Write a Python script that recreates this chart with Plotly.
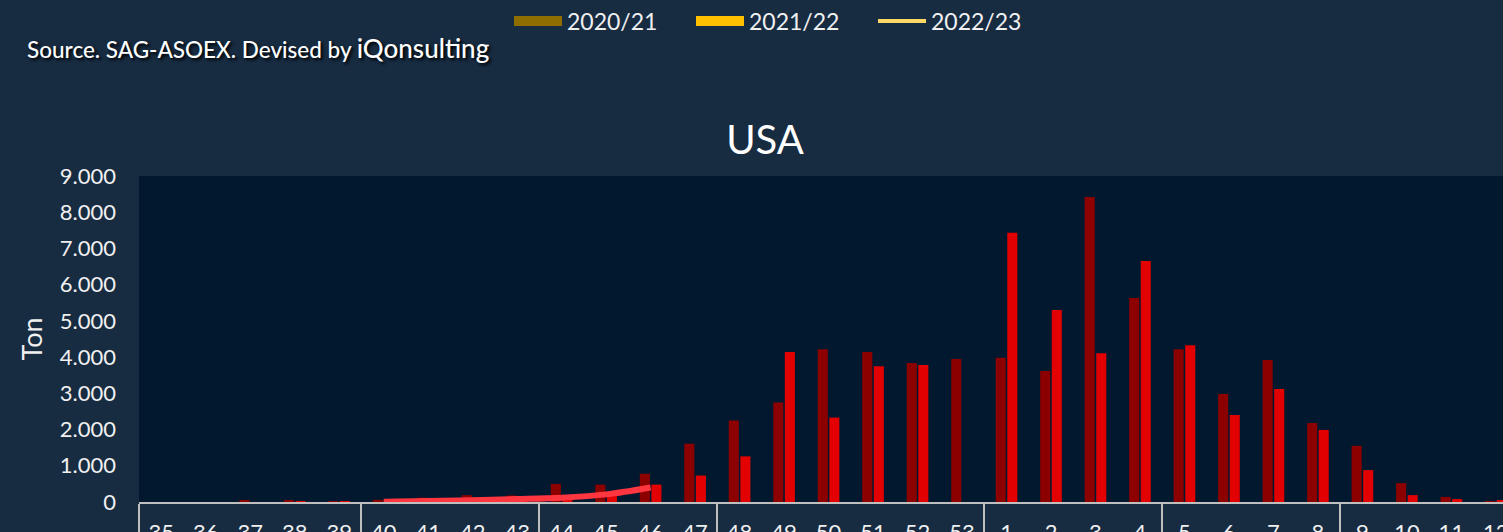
import plotly.graph_objects as go

# ---------------- data ----------------
months = (["Sep"] * 5 + ["Oct"] * 4 + ["Nov"] * 4 + ["Dec"] * 6 +
          ["Jan"] * 4 + ["Feb"] * 4 + ["Mar"] * 4)
weeks = ["35", "36", "37", "38", "39", "40", "41", "42", "43", "44", "45", "46",
         "47", "48", "49", "50", "51", "52", "53", "1", "2", "3", "4", "5", "6",
         "7", "8", "9", "10", "11", "12"]

season_2020_21 = [0, 0, 30, 30, 20, 60, 120, 190, 180, 500, 480, 780,
                  1610, 2250, 2750, 4220, 4140, 3840, 3950, 3980, 3620, 8420, 5630, 4220, 2980,
                  3920, 2180, 1550, 520, 140, 20]
season_2021_22 = [0, 0, 0, 10, 20, 10, 20, 40, 60, 100, 240, 480,
                  730, 1260, 4140, 2330, 3750, 3780, 0, 7430, 5300, 4110, 6650, 4330, 2400,
                  3120, 1990, 880, 190, 80, 50]
line_months = ["Oct", "Oct", "Oct", "Oct", "Nov", "Nov", "Nov"]
line_weeks = ["40", "41", "42", "43", "44", "45", "46"]
season_2022_23 = [10, 30, 50, 80, 120, 210, 400]

legend_names = ["2020/21", "2021/22", "2022/23"]
legend_colors = ["#8E6E00", "#FFC000", "#FFD966"]

y_ticks = [0, 1000, 2000, 3000, 4000, 5000, 6000, 7000, 8000, 9000]

# ---------------- figure ----------------
W, H = 1503, 532
FONT = "Lato"
TXT = "#F0F0F0"

fig = go.Figure()
fig.add_trace(go.Bar(x=[months, weeks], y=season_2020_21, name="2020/21",
                     marker=dict(color="#8C0000", line=dict(width=0)), showlegend=False))
fig.add_trace(go.Bar(x=[months, weeks], y=season_2021_22, name="2021/22",
                     marker=dict(color="#E20000", line=dict(width=0)), showlegend=False))
fig.add_trace(go.Scatter(x=[line_months, line_weeks], y=season_2022_23, name="2022/23",
                         mode="lines", line=dict(color="#FF3540", width=6, shape="spline"),
                         showlegend=False))

# legend entries (colours as shown in the reference legend)
for i, (nm, col) in enumerate(zip(legend_names, legend_colors)):
    fig.add_trace(go.Scatter(x=[None], y=[None], name=nm, mode="lines",
                             line=dict(color=col, width=13 if i < 2 else 4),
                             xaxis="x2", yaxis="y2", showlegend=True))

fig.update_layout(
    width=W, height=H,
    paper_bgcolor="#172B41",
    plot_bgcolor="#02182F",
    margin=dict(l=138.5, r=0, t=176, b=30, pad=0, autoexpand=False),
    separators=",.",
    barmode="group",
    bargap=0.48,
    bargroupgap=0.13,
    font=dict(family=FONT, color=TXT, size=21),
    title=dict(text="USA", x=765 / W, xref="container", xanchor="center",
               y=1 - 140 / H, yref="container", yanchor="middle",
               font=dict(family=FONT, size=40, color="#FFFFFF")),
    legend=dict(orientation="h", x=(514 - 5) / W, xref="container", xanchor="left",
                y=1 - 21 / H, yref="container", yanchor="middle",
                font=dict(family=FONT, size=23, color=TXT),
                bgcolor="rgba(0,0,0,0)", itemwidth=48, traceorder="normal",
                entrywidth=119),
    xaxis=dict(type="multicategory", range=[-0.5, 30.16], showgrid=False,
               showline=True, linecolor="#BFBFBF", linewidth=2,
               showdividers=True, dividercolor="#BFBFBF", dividerwidth=2,
               tickfont=dict(family=FONT, size=22, color=TXT), zeroline=False,
               ticklabelstandoff=10, automargin=False, fixedrange=True),
    yaxis=dict(range=[0, 9000], tickvals=y_ticks, tickformat=",d", showgrid=False,
               zeroline=False, showline=False, ticks="",
               tickfont=dict(family=FONT, size=22, color=TXT),
               ticklabelstandoff=22, automargin=False,
               title=dict(text="Ton", font=dict(family=FONT, size=27, color=TXT), standoff=9)),
    xaxis2=dict(visible=False, overlaying="x"),
    yaxis2=dict(visible=False, overlaying="y"),
    annotations=[dict(
        text="Source. SAG-ASOEX. Devised by <span style='font-size:26px'>iQonsulting</span>",
        xref="paper", yref="paper", x=(24 - 138.5) / (W - 138.5), y=(502 - 48) / 326,
        xanchor="left", yanchor="middle", showarrow=False,
        font=dict(family=FONT, size=22.5, color="#FFFFFF", weight=500,
                  shadow="2px 2px 3px #000000"))],
)

fig.write_html("out.html", config={"displayModeBar": False},
               post_script="document.body.style.margin='0px';")
